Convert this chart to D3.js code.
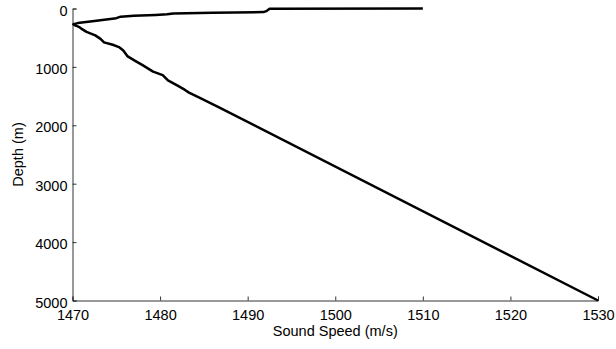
<!DOCTYPE html>
<html>
<head>
<meta charset="utf-8">
<script src="https://cdn.jsdelivr.net/npm/d3@7/dist/d3.min.js"></script>
<style>
  html, body { margin: 0; padding: 0; background: #fff; }
  svg { display: block; font-family: "Liberation Sans", Arial, sans-serif; }
</style>
</head>
<body>
<svg id="chart" width="616" height="349"></svg>
<script>
// Sound speed profile: depth (m) and sound speed (m/s)
const depths = [0, 6, 40, 62, 72, 85, 100, 110, 125, 140, 165, 215, 250, 268, 290, 320, 345, 400, 460, 520, 580, 620, 660, 720, 820, 900, 970, 1080, 1140, 1230, 1320, 1390, 1440, 1533, 1704, 5000];
const speeds = [1510, 1492.5, 1492.2, 1491.8, 1486, 1481.5, 1480.8, 1479.5, 1477, 1475.5, 1475.0, 1472.5, 1470.6, 1470.1, 1470.3, 1470.8, 1471.0, 1471.6, 1472.6, 1473.2, 1473.6, 1474.6, 1475.3, 1475.8, 1476.3, 1477.2, 1478.0, 1479.2, 1480.3, 1480.9, 1482.0, 1482.8, 1483.3, 1484.6, 1486.9, 1530];
const xTicks = [1470, 1480, 1490, 1500, 1510, 1520, 1530];
const yTicks = [0, 1000, 2000, 3000, 4000, 5000];

const margin = { left: 72.5, right: 18, top: 8.5, bottom: 48.5 };
const W = 616, H = 349;
const svg = d3.select("#chart");

const x = d3.scaleLinear().domain([1470, 1530]).range([margin.left, W - margin.right]);
const y = d3.scaleLinear().domain([0, 5000]).range([margin.top, H - margin.bottom]);

const axisColor = "#333";
const fontSize = "14.5px";

// Bottom axis with inward ticks
const gx = svg.append("g")
  .attr("transform", `translate(0,${H - margin.bottom})`)
  .call(d3.axisBottom(x).tickValues(xTicks).tickFormat(d3.format("d")).tickSize(-4).tickPadding(9));
// Left axis with inward ticks
const gy = svg.append("g")
  .attr("transform", `translate(${margin.left},0)`)
  .call(d3.axisLeft(y).tickValues(yTicks).tickFormat(d3.format("d")).tickSize(-4).tickPadding(9));

[gx, gy].forEach(g => {
  g.select(".domain").attr("stroke", axisColor).attr("stroke-width", 1);
  g.selectAll(".tick line").attr("stroke", axisColor);
  g.selectAll(".tick text")
    .attr("fill", "#000")
    .style("font-family", "Liberation Sans, Arial, sans-serif")
    .style("font-size", fontSize);
});
gx.selectAll(".tick text").attr("dy", "0.71em");
gy.selectAll(".tick text").attr("x", -5).attr("dy", "0.45em");

// Profile line
const pts = depths.map((d, i) => [speeds[i], d]);
svg.append("path")
  .datum(pts)
  .attr("fill", "none")
  .attr("stroke", "#000")
  .attr("stroke-width", 2.5)
  .attr("stroke-linejoin", "round")
  .attr("d", d3.line().x(p => x(p[0])).y(p => y(p[1])));

// Axis titles
svg.append("text")
  .attr("x", (x.range()[0] + x.range()[1]) / 2)
  .attr("y", 336)
  .attr("text-anchor", "middle")
  .style("font-size", fontSize)
  .text("Sound Speed (m/s)");

svg.append("text")
  .attr("transform", `translate(23,${(y.range()[0] + y.range()[1]) / 2}) rotate(-90)`)
  .attr("text-anchor", "middle")
  .style("font-size", fontSize)
  .text("Depth (m)");
</script>
</body>
</html>
